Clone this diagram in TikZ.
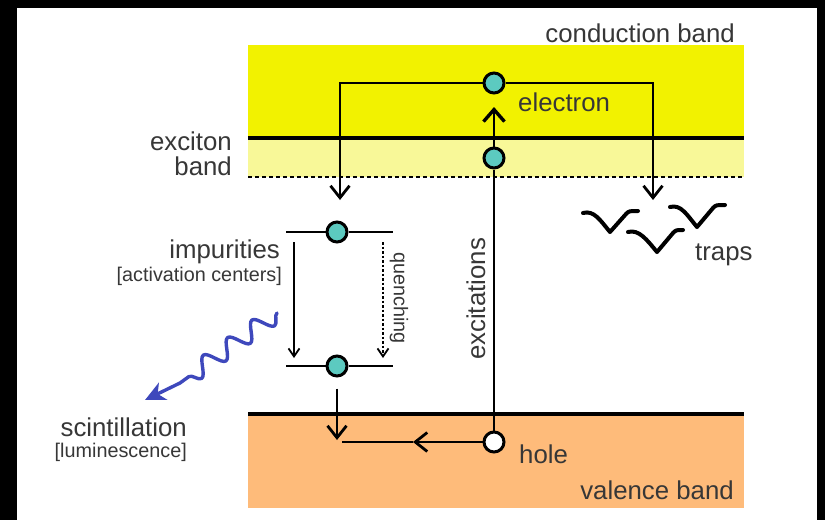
\documentclass[tikz,border=0pt]{standalone}
\usepackage{fontspec}
\setmainfont{Liberation Sans}
\usetikzlibrary{arrows.meta,decorations.pathmorphing}
\definecolor{cband}{RGB}{242,242,0}
\definecolor{xband}{RGB}{248,248,152}
\definecolor{vband}{RGB}{254,187,122}
\definecolor{dotc}{RGB}{92,202,192}
\definecolor{txt}{RGB}{55,55,55}
\definecolor{wavec}{RGB}{62,72,188}
\begin{document}
\begin{tikzpicture}[x=1pt,y=-1pt,
  lbl/.style={inner sep=0pt,text=txt,font=\fontsize{25.8}{30}\selectfont},
  slbl/.style={inner sep=0pt,text=txt,font=\fontsize{19.8}{23}\selectfont},
  particle/.style={circle,draw=black,line width=3pt,fill=dotc,minimum size=20pt,inner sep=0pt},
  holept/.style={particle,fill=white},
  bandline/.style={line width=3.4pt},
  flow/.style={line width=2.8pt},
  bigarr/.style={-{Straight Barb[length=12pt,width=19pt,line width=2.8pt]}},
  smallarr/.style={line width=1.8pt,-{Straight Barb[length=8pt,width=11pt,line width=1.8pt]}},
  trap/.style={line width=4pt,line cap=round,line join=round},
]
% frame
\fill[black] (0,0) rectangle (825,520);
\fill[white] (17,8) rectangle (817,520);
\useasboundingbox (0,0) rectangle (825,520);
% bands
\fill[cband] (248,45) rectangle (744,138);
\fill[xband] (248,138) rectangle (744,177);
\fill[vband] (248,414) rectangle (744,508);
\draw[bandline] (248,138) -- (744,138);
\draw[line width=2.4pt,dash pattern=on 4pt off 3pt] (248,177) -- (744,177);
\draw[bandline] (248,414) -- (744,414);
% particles
\node[particle] (e1) at (494,83) {};
\node[particle] (e2) at (494,158) {};
\node[particle] (i1) at (337,232) {};
\node[particle] (i2) at (337,366) {};
\node[holept] (h) at (494,442) {};
% coordinates
\coordinate (cl) at (340,200);
\coordinate (cr) at (653,200);
\coordinate (etip) at (494,107);
\coordinate (lv1a) at (286,232);
\coordinate (lv1b) at (393,232);
\coordinate (lv2a) at (286,366);
\coordinate (lv2b) at (393,366);
\coordinate (qa1) at (294,242);
\coordinate (qa2) at (294,358);
\coordinate (qb1) at (383,242);
\coordinate (qb2) at (383,358);
\coordinate (dtip) at (337,440);
\coordinate (lm) at (413,442);
\coordinate (le) at (342,442);
\coordinate (ws) at (277,313);
\coordinate (wb) at (180,383);
\coordinate (wt) at (145,400);
% connectors
\draw[flow,bigarr] (e1.west) -| (cl);
\draw[flow,bigarr] (e1.east) -| (cr);
\draw[flow] (h.north) -- (e2.south);
\draw[line width=2.8pt,-{Straight Barb[length=12pt,width=21pt,line width=3.4pt]}] (e2.north) -- (etip);
\draw[flow] (lv1a) -- (i1.west);
\draw[flow] (i1.east) -- (lv1b);
\draw[flow] (lv2a) -- (i2.west);
\draw[flow] (i2.east) -- (lv2b);
\draw[smallarr] (qa1) -- (qa2);
\draw[smallarr,dash pattern=on 2.5pt off 2pt] (qb1) -- (qb2);
\draw[flow,bigarr,shorten <=11pt] (i2.south) -- (dtip);
\draw[flow,bigarr] (h.west) -- (lm);
\draw[flow] (lm) -- (le);
% scintillation photon
\draw[wavec,line width=3.4pt,line cap=round,line join=round,
  decoration={snake,segment length=30pt,amplitude=9pt},
  -{Stealth[length=20pt,width=19pt,inset=6pt]}]
  (ws) decorate {-- (wb)} -- (wt);
% traps
\draw[trap] (583,213) .. controls (594,210) and (600,220) .. (610,232) -- (626,214) .. controls (629,211) .. (638,211);
\draw[trap] (628,232) .. controls (639,229) and (647,240) .. (657,252) -- (673,233) .. controls (676,230) .. (683,230);
\draw[trap] (670,207) .. controls (681,204) and (687,215) .. (697,227) -- (713,208) .. controls (716,205) .. (725,205);
% labels
\node[lbl,anchor=base east] (tcb) at (735,42) {conduction band};
\node[lbl,anchor=base west] (tel) at (518,111) {electron};
\node[lbl,anchor=base east] (tex1) at (232,150) {exciton};
\node[lbl,anchor=base east] (tex2) at (232,175) {band};
\node[lbl,anchor=base east] (timp) at (280,258) {impurities};
\node[slbl,anchor=base east] (tact) at (282,281) {[activation centers]};
\node[slbl,rotate=-90] (tq) at (399,298) {quenching};
\node[lbl,rotate=90] (texc) at (476,299) {excitations};
\node[lbl,anchor=base east] (tsc) at (187,436) {scintillation};
\node[slbl,anchor=base east] (tlum) at (187,457) {[luminescence]};
\node[lbl,anchor=base west] (thole) at (519,463) {hole};
\node[lbl,anchor=base east] (tvb) at (734,499) {valence band};
\node[lbl,anchor=base west] (ttr) at (695,260) {traps};
\end{tikzpicture}
\end{document}
